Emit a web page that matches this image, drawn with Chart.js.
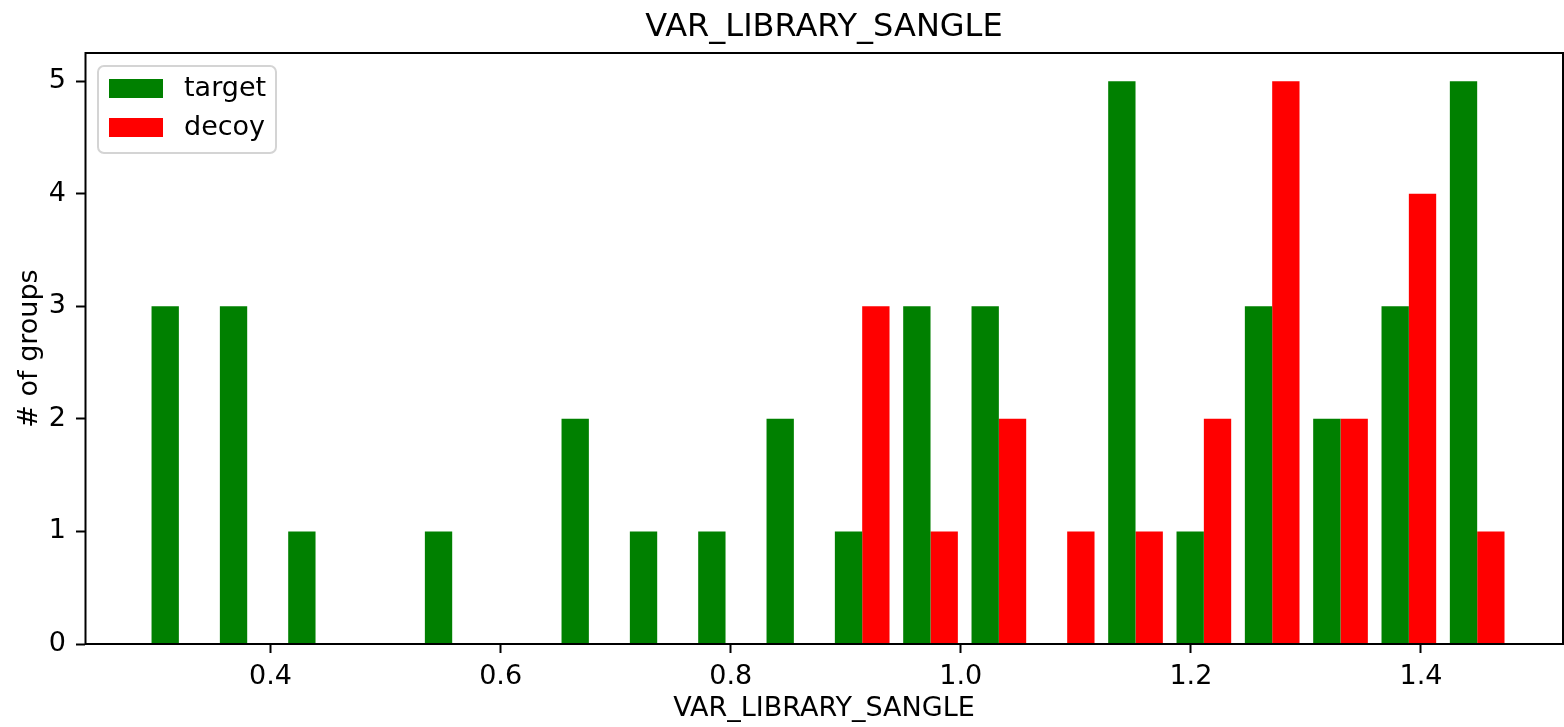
<!DOCTYPE html>
<html>
<head>
<meta charset="utf-8">
<script src="https://cdn.jsdelivr.net/npm/chart.js@4"></script>
<style>
  body { margin: 0; background: #fff; }
  canvas { display: block; }
</style>
</head>
<body>
<canvas id="myChart" width="1564" height="727"></canvas>
<script>
// histogram bins (centres), 20 bins
const binCenters = [0.3203, 0.3797, 0.4391, 0.4985, 0.5579, 0.6173, 0.6767, 0.7361, 0.7955, 0.8549,
                    0.9143, 0.9737, 1.0331, 1.0925, 1.1519, 1.2113, 1.2707, 1.3301, 1.3895, 1.4489]
const targetCounts = [3, 3, 1, 0, 1, 0, 2, 1, 1, 2, 1, 3, 3, 0, 5, 1, 3, 2, 3, 5]
const decoyCounts  = [0, 0, 0, 0, 0, 0, 0, 0, 0, 0, 3, 1, 2, 1, 1, 2, 5, 2, 4, 1]
const xTicks = [0.4, 0.6, 0.8, 1.0, 1.2, 1.4]
const yTicks = [0, 1, 2, 3, 4, 5]
const chartTitle = 'VAR_LIBRARY_SANGLE'

const FONT = "'DejaVu Sans', sans-serif"
Chart.defaults.color = '#000'
Chart.defaults.font.family = FONT

// box round the plot, like matplotlib spines
const framePlugin = {
  id: 'frame',
  afterDatasetsDraw(chart) {
    const a = chart.chartArea
    const ctx = chart.ctx
    ctx.save()
    ctx.strokeStyle = '#000'
    ctx.lineWidth = 2
    ctx.strokeRect(a.left + 0.5, a.top, a.right - a.left - 0.5, a.bottom - a.top)
    ctx.restore()
  }
}

// title centred over the plot area (not the whole canvas)
const titlePlugin = {
  id: 'areaTitle',
  afterDraw(chart) {
    const a = chart.chartArea
    const ctx = chart.ctx
    ctx.save()
    ctx.font = '32px ' + FONT
    ctx.fillStyle = '#000'
    ctx.textAlign = 'center'
    ctx.textBaseline = 'middle'
    ctx.fillText(chartTitle, (a.left + a.right) / 2, 28)
    ctx.restore()
  }
}

// legend box in the upper left corner
const legendPlugin = {
  id: 'boxLegend',
  afterDraw(chart) {
    const ctx = chart.ctx
    const a = chart.chartArea
    const x0 = a.left + 13, y0 = a.top + 13
    ctx.save()
    ctx.beginPath()
    ctx.roundRect(x0, y0, 178, 87, 6)
    ctx.fillStyle = 'rgba(255,255,255,0.8)'
    ctx.fill()
    ctx.strokeStyle = '#d4d4d4'
    ctx.lineWidth = 2
    ctx.stroke()
    ctx.font = '27px ' + FONT
    ctx.textBaseline = 'middle'
    chart.data.datasets.forEach(function(ds, i) {
      const yy = y0 + 13 + i * 39
      ctx.fillStyle = ds.backgroundColor
      ctx.fillRect(x0 + 11, yy, 54, 19)
      ctx.fillStyle = '#000'
      ctx.fillText(ds.label, x0 + 86, yy + 10)
    })
    ctx.restore()
  }
}

let data = {
  datasets: [{
    label: 'target',
    backgroundColor: '#008000',
    data: binCenters.map((c, i) => ({x: c, y: targetCounts[i]})),
  }, {
    label: 'decoy',
    backgroundColor: '#ff0000',
    data: binCenters.map((c, i) => ({x: c, y: decoyCounts[i]})),
  }]
}

let config = {
  type: 'bar',
  data,
  options: {
    responsive: false,
    animation: false,
    devicePixelRatio: 1,
    layout: { padding: { left: 0, right: 1, top: 53, bottom: 0 } },
    datasets: {
      bar: { categoryPercentage: 0.8, barPercentage: 1.0, borderWidth: 0 }
    },
    plugins: {
      legend: { display: false },
      tooltip: { enabled: false },
      title: { display: false }
    },
    scales: {
      x: {
        type: 'linear',
        min: 0.2387,
        max: 1.5235,
        offset: false,
        afterBuildTicks: function(scale) { scale.ticks = xTicks.map(v => ({value: v})) },
        afterFit: function(scale) { scale.height = 83 },
        grid: { display: true, offset: false, drawOnChartArea: false, tickLength: 9, tickWidth: 2, tickColor: '#000' },
        border: { display: false },
        ticks: {
          padding: 8,
          maxRotation: 0,
          font: { size: 27, family: FONT },
          callback: function(v) { return v.toFixed(1) }
        },
        title: {
          display: true,
          text: 'VAR_LIBRARY_SANGLE',
          font: { size: 27, family: FONT, lineHeight: 1.2 },
          padding: { top: 0, bottom: 2 }
        }
      },
      y: {
        min: 0,
        max: 5.25,
        afterBuildTicks: function(scale) { scale.ticks = yTicks.map(v => ({value: v})) },
        afterFit: function(scale) { scale.width = 85 },
        grid: { display: true, drawOnChartArea: false, tickLength: 9, tickWidth: 2, tickColor: '#000' },
        border: { display: false },
        ticks: {
          padding: 10,
          font: { size: 27, family: FONT },
          callback: function(v) { return String(v) }
        },
        title: {
          display: true,
          text: '# of groups',
          font: { size: 27, family: FONT, lineHeight: 1.2 },
          padding: { top: 14, bottom: 0 }
        }
      }
    }
  },
  plugins: [framePlugin, titlePlugin, legendPlugin]
}

var chart = new Chart(document.getElementById('myChart'), config)
</script>
</body>
</html>
